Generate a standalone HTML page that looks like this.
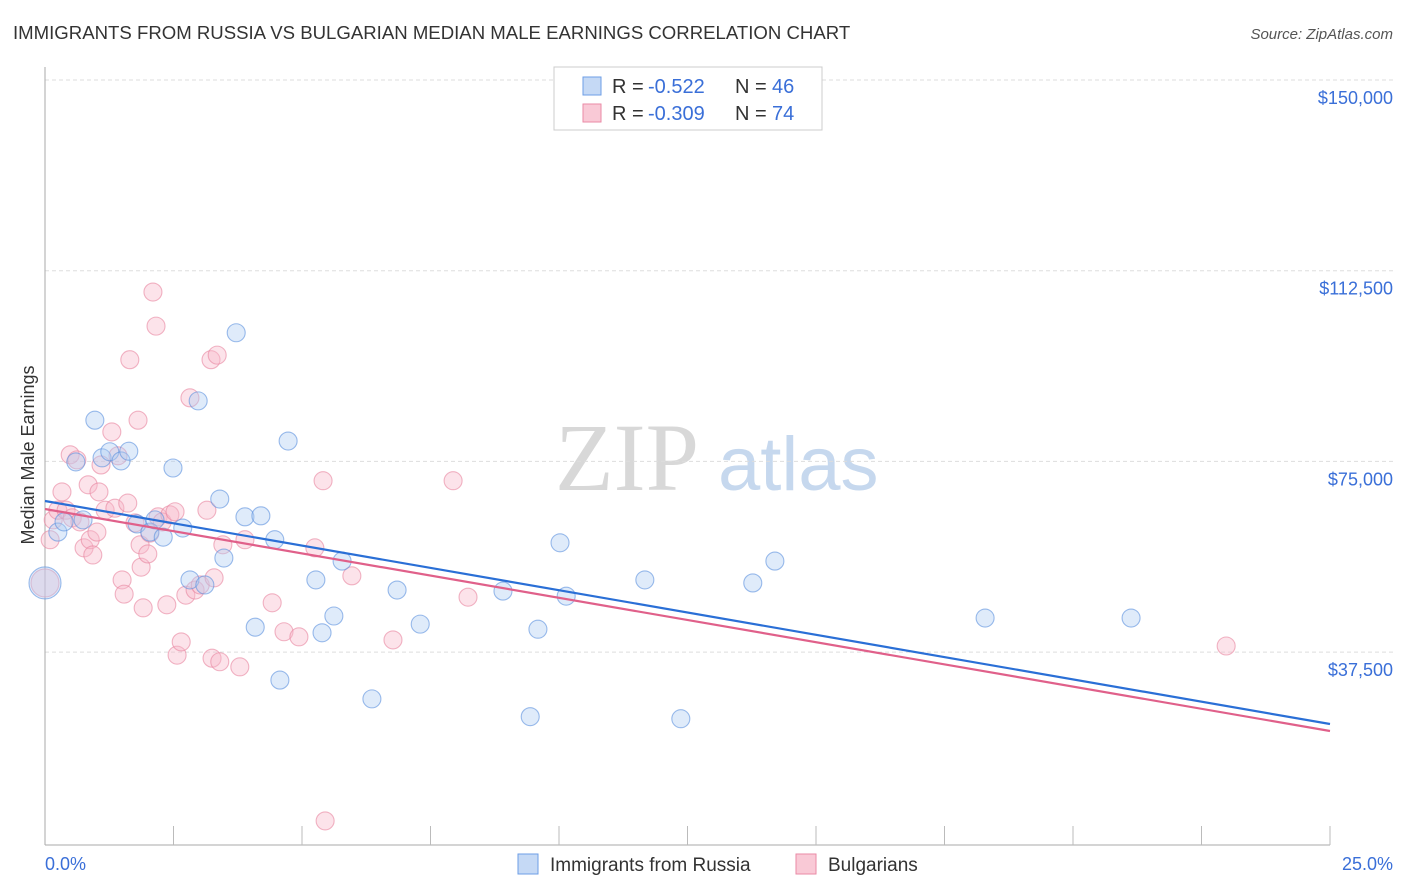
<!DOCTYPE html>
<html><head><meta charset="utf-8">
<style>
body{margin:0;background:#fff;font-family:"Liberation Sans",sans-serif;}
svg{display:block}
</style></head>
<body>
<svg id="chart" width="1406" height="892" xmlns="http://www.w3.org/2000/svg">
<text x="13" y="39" font-size="18.6" fill="#333">IMMIGRANTS FROM RUSSIA VS BULGARIAN MEDIAN MALE EARNINGS CORRELATION CHART</text>
<text x="1393" y="39" font-size="15" fill="#555" text-anchor="end" font-style="italic">Source: ZipAtlas.com</text>
<g>
<text x="555" y="490" font-size="96" fill="#d8d8d8" font-family="Liberation Serif,serif">ZIP</text>
<text x="718" y="490" font-size="76" fill="#c6d8ee">atlas</text>
</g>
<g id="grid"></g>
<g id="axes"></g>
<text transform="translate(34,455) rotate(-90)" font-size="18" fill="#333" text-anchor="middle">Median Male Earnings</text>
<g id="pts"></g>
<g id="trends"></g>
<g>
<rect x="554" y="67" width="268" height="63" fill="#fff" stroke="#ccc"/>
<rect x="583" y="77" width="18" height="18" fill="#c5d9f5" stroke="#6d9ee6"/>
<text x="612" y="93" font-size="20" fill="#333">R =</text>
<text x="648" y="93" font-size="20" fill="#3a6fd8">-0.522</text>
<text x="735" y="93" font-size="20" fill="#333">N =</text>
<text x="772" y="93" font-size="20" fill="#3a6fd8">46</text>
<rect x="583" y="104" width="18" height="18" fill="#f9c9d6" stroke="#ea8aa6"/>
<text x="612" y="120" font-size="20" fill="#333">R =</text>
<text x="648" y="120" font-size="20" fill="#3a6fd8">-0.309</text>
<text x="735" y="120" font-size="20" fill="#333">N =</text>
<text x="772" y="120" font-size="20" fill="#3a6fd8">74</text>
</g>
<g>
<rect x="518" y="854" width="20" height="20" fill="#c5d9f5" stroke="#6d9ee6"/>
<text x="550" y="871" font-size="19" fill="#333">Immigrants from Russia</text>
<rect x="796" y="854" width="20" height="20" fill="#f9c9d6" stroke="#ea8aa6"/>
<text x="828" y="871" font-size="19" fill="#333">Bulgarians</text>
</g>
</svg>
<script>
const yTicks=[37500,75000,112500,150000];
const yTickLabels=["$37,500","$75,000","$112,500","$150,000"];
const xTickCount=10;
const russiaX=[0,.25,.60,.97,1.11,1.26,1.48,1.63,.74,1.79,2.04,2.14,2.30,2.49,2.68,2.82,2.98,3.11,3.40,3.48,3.72,3.89,4.09,4.20,4.47,4.57,4.73,5.27,5.39,5.62,5.78,6.36,6.85,7.30,8.91,9.44,9.59,10.02,10.14,11.67,12.37,13.77,14.20,18.29,21.13,.37];
const russiaY=[51.1,61.1,74.9,83.1,75.7,76.9,75.1,77.0,63.5,62.7,61.1,63.5,60.1,73.7,61.9,51.7,86.9,50.7,67.6,56.0,100.3,64.1,42.4,64.3,59.6,32.0,79.0,51.7,41.3,44.6,55.4,28.3,49.7,43.0,49.5,24.8,42.0,59.0,48.5,51.7,24.4,51.1,55.4,44.2,44.2,63.1];
const bulgX=[0,.10,.16,.25,.33,.41,.49,.53,.62,.68,.76,.84,.88,.93,1.01,1.05,1.09,1.17,1.30,1.36,1.42,1.50,1.54,1.61,1.65,1.75,1.81,1.85,1.87,1.91,2.00,2.04,2.10,2.16,2.20,2.28,2.37,2.43,2.53,2.57,2.65,2.74,2.82,2.92,3.02,3.15,3.23,3.25,3.29,3.35,3.40,3.46,3.79,3.89,4.42,4.65,4.94,5.25,5.41,5.45,5.97,6.77,7.94,8.23,22.98];
const bulgY=[51.1,59.6,63.5,65.4,69.0,65.4,76.3,63.9,75.3,63.1,58.0,70.4,59.6,56.6,61.1,69.0,74.3,65.4,80.8,65.8,76.1,51.7,48.9,66.8,95.0,62.9,83.1,58.6,54.2,46.2,56.8,60.9,108.3,101.6,64.1,63.1,46.8,64.5,65.1,36.9,39.5,48.7,87.5,49.7,50.7,65.4,95.0,36.3,52.1,95.9,35.6,58.6,34.6,59.6,47.2,41.5,40.5,58.0,71.2,4.3,52.5,39.9,71.2,48.3,38.7];
const russiaTrend=[67213,23361];
const bulgTrend=[65640,21985];
const NS="http://www.w3.org/2000/svg";
const X=v=>45+v/25*1285;
const Y=v=>80+(150000-v)/37500*190.7;
function mk(t,a,p){const e=document.createElementNS(NS,t);for(const k in a)e.setAttribute(k,a[k]);p.appendChild(e);return e;}
const grid=document.getElementById('grid'),axes=document.getElementById('axes');
yTicks.forEach((v,i)=>{
 const l=mk('line',{x1:45,x2:1393,y1:Y(v),y2:Y(v),stroke:'#ddd','stroke-dasharray':'4,3'},grid);
 
 
 const t=mk('text',{x:1393,y:Y(v)+24,'font-size':18,fill:'#3a6fd8','text-anchor':'end'},axes);
 t.textContent=yTickLabels[i];
 
 
});
mk('line',{x1:45,x2:45,y1:67,y2:845,stroke:'#aaa'},axes);
mk('line',{x1:45,x2:1330,y1:845,y2:845,stroke:'#aaa'},axes);
for(let i=1;i<=xTickCount;i++){const x=X(i*2.5);const tk=mk('line',{x1:x,x2:x,y1:826,y2:845,stroke:'#bbb'},axes);
 
 }
let t=mk('text',{x:45,y:870,'font-size':18,fill:'#3a6fd8'},axes);t.textContent='0.0%';


t=mk('text',{x:1393,y:870,'font-size':18,fill:'#3a6fd8','text-anchor':'end'},axes);t.textContent='25.0%';


const pts=document.getElementById('pts');
function draw(xs,ys,fill,stroke,name){xs.forEach((x,i)=>{
 const c=mk('circle',{cx:X(x),cy:Y(ys[i]*1000),r:i===0?(name==='russia-point'?16:14):9,fill:fill,'fill-opacity':0.4,stroke:stroke,'stroke-opacity':0.6,'stroke-width':1.1},pts);
 
 
});}
draw(bulgX,bulgY,'#f7b8ca','#e8849f','bulgarian-point');
draw(russiaX,russiaY,'#b0cdf2','#5a8fdd','russia-point');
const tr=document.getElementById('trends');
let l=mk('line',{x1:X(0),y1:Y(russiaTrend[0]),x2:X(25),y2:Y(russiaTrend[1]),stroke:'#2a6fd6','stroke-width':2.2},tr);


l=mk('line',{x1:X(0),y1:Y(bulgTrend[0]),x2:X(25),y2:Y(bulgTrend[1]),stroke:'#e0608a','stroke-width':2.2},tr);


</script>
</body></html>
